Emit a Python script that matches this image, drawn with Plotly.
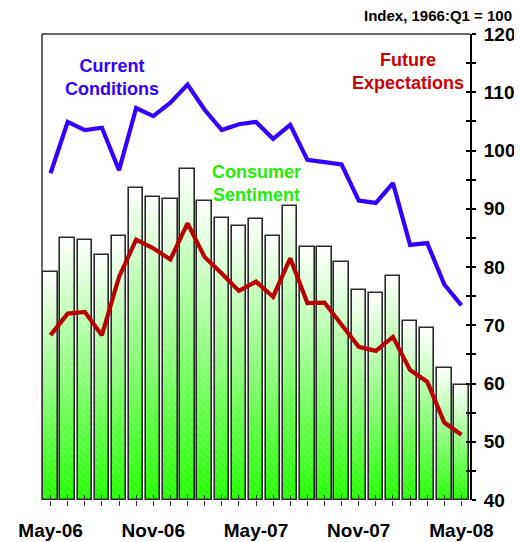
import plotly.graph_objects as go

months = ["May-06","Jun-06","Jul-06","Aug-06","Sep-06","Oct-06","Nov-06","Dec-06",
          "Jan-07","Feb-07","Mar-07","Apr-07","May-07","Jun-07","Jul-07","Aug-07",
          "Sep-07","Oct-07","Nov-07","Dec-07","Jan-08","Feb-08","Mar-08","Apr-08","May-08"]
sentiment = [79.1, 84.9, 84.7, 82.0, 85.4, 93.6, 92.1, 91.7, 96.9, 91.3, 88.4, 87.1, 88.3,
             85.3, 90.4, 83.4, 83.4, 80.9, 76.1, 75.5, 78.4, 70.8, 69.5, 62.6, 59.8]
current = [96.1, 104.9, 103.5, 103.9, 96.6, 107.3, 105.9, 108.2, 111.3, 107.0, 103.5, 104.5,
           104.9, 102.0, 104.4, 98.4, 98.0, 97.6, 91.4, 91.0, 94.4, 83.8, 84.1, 77.0, 73.4]
expect = [68.3, 72.0, 72.3, 68.3, 78.3, 84.7, 83.2, 81.3, 87.5, 81.7, 78.9, 75.9, 77.5,
          74.9, 81.5, 73.8, 73.9, 70.0, 66.3, 65.6, 68.0, 62.3, 60.3, 53.3, 51.2]
label_months = ["May-06", "Nov-06", "May-07", "Nov-07", "May-08"]

FONT = "Arial, Liberation Sans, sans-serif"
x = list(range(len(months)))
ticktext = [m if m in label_months else "" for m in months]
base_val = 40
BW = 0.84

fig = go.Figure()

# gradient bars: stacked slices from white (top) to bright green (bottom)
N = 40
g0 = (34, 255, 0)
for k in range(N):
    t = (k + 0.5) / N
    c = tuple(int(round(g0[j] * (1 - t) + 255 * t)) for j in range(3))
    bases = [base_val + (v - base_val) * k / N for v in sentiment]
    hs = [(v - base_val) / N * 1.02 for v in sentiment]
    fig.add_trace(go.Bar(x=x, y=hs, base=bases, width=BW,
                         marker=dict(color="rgb(%d,%d,%d)" % c, line=dict(width=0)),
                         hoverinfo="skip", showlegend=False))

# outline + faint hatch
fig.add_trace(go.Bar(x=x, y=[v - base_val for v in sentiment], base=base_val, width=BW,
                     marker=dict(color="rgba(0,0,0,0)",
                                 line=dict(color="#2a2a2a", width=1.6),
                                 pattern=dict(shape="\\", fgcolor="white", fgopacity=0.35,
                                              size=5, solidity=0.15, fillmode="replace")),
                     name="Consumer Sentiment", showlegend=False))

fig.add_trace(go.Scatter(x=x, y=current, mode="lines", line=dict(color="#3300ff", width=4.2),
                         name="Current Conditions", showlegend=False))
fig.add_trace(go.Scatter(x=x, y=expect, mode="lines", line=dict(color="#b80000", width=4.2),
                         name="Future Expectations", showlegend=False))

PLOT_H = 534 - 26 - 42
fig.update_layout(
    width=514, height=534,
    margin=dict(l=34, r=52, t=26, b=42, autoexpand=False),
    paper_bgcolor="white", plot_bgcolor="white",
    barmode="overlay", bargap=0,
    font=dict(family=FONT, color="black"),
    xaxis=dict(range=[-0.5, 24.5], tickvals=x, ticktext=ticktext, automargin=False,
               ticks="outside", ticklen=5, tickcolor="#333", tickwidth=1.2,
               ticklabelstandoff=8,
               tickfont=dict(size=19, family=FONT, color="black", weight="bold"),
               showgrid=False, zeroline=False, showline=False),
    xaxis2=dict(range=[-0.5, 24.5], overlaying="x", tickvals=x, showticklabels=False,
                ticks="inside", ticklen=5, tickcolor="#333", tickwidth=1.2, automargin=False,
                showgrid=False, zeroline=False, showline=False),
    yaxis=dict(range=[40, 120], side="right", dtick=10, tick0=40, automargin=False,
               ticks="outside", ticklen=4, tickcolor="black", tickwidth=1.5,
               minor=dict(dtick=5, ticks="outside", ticklen=4, tickcolor="black", tickwidth=1.5),
               tickfont=dict(size=19, family=FONT, color="black", weight="bold"),
               ticklabelstandoff=4,
               showgrid=False, zeroline=False, showline=True, linecolor="black", linewidth=2),
    yaxis2=dict(range=[40, 120], overlaying="y", side="right", dtick=5, tick0=40, automargin=False,
                showticklabels=False, ticks="inside", ticklen=4, tickcolor="black", tickwidth=1.5,
                showgrid=False, zeroline=False, showline=False),
    shapes=[dict(type="line", xref="paper", yref="paper", x0=0, x1=1, y0=1, y1=1,
                 line=dict(color="#333", width=1.5)),
            dict(type="line", xref="paper", yref="paper", x0=0, x1=0, y0=0, y1=1,
                 line=dict(color="#333", width=1.5))],
    annotations=[
        dict(text="<b>Index, 1966:Q1 = 100</b>", xref="paper", yref="paper", x=1.10,
             y=1 + 26 / PLOT_H, xanchor="right", yanchor="top", borderpad=0, yshift=2,
             showarrow=False, font=dict(size=15, family=FONT, color="black")),
        dict(text="<b>Current<br>Conditions</b>", x=3.6, y=112.5, xref="x", yref="y",
             showarrow=False, font=dict(size=18, family=FONT, color="#3300ff")),
        dict(text="<b>Future<br>Expectations</b>", x=20.85, y=113.6, xref="x", yref="y",
             showarrow=False, font=dict(size=18, family=FONT, color="#cc0000")),
        dict(text="<b>Consumer<br>Sentiment</b>", x=12.0, y=94.25, xref="x", yref="y",
             showarrow=False, font=dict(size=18, family=FONT, color="#22ee00")),
    ],
)

# attach an invisible trace to the secondary axes so they are drawn
fig.add_trace(go.Scatter(x=[0], y=[40], xaxis="x2", yaxis="y2", mode="markers",
                         marker=dict(opacity=0), hoverinfo="skip", showlegend=False))

fig.write_html("out.html")
